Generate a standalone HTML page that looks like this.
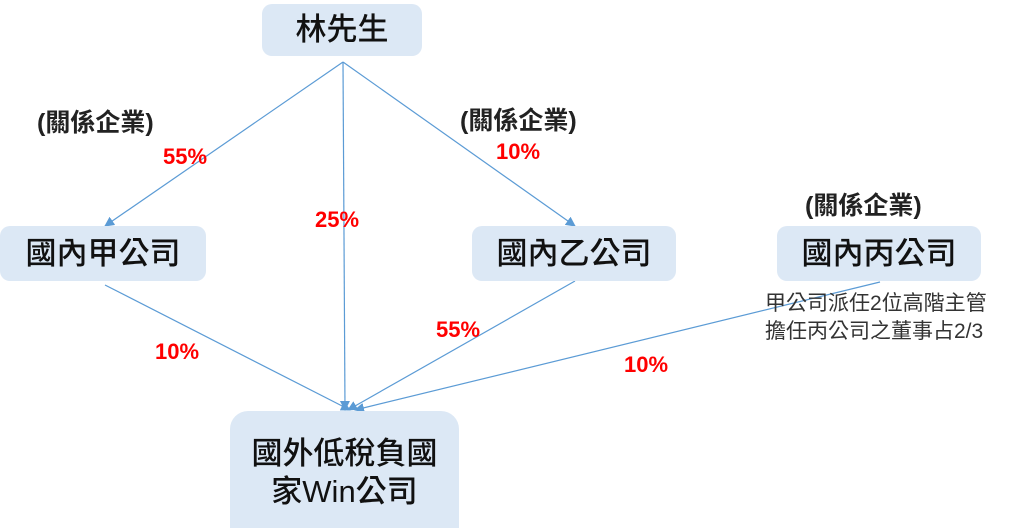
<!DOCTYPE html>
<html><head><meta charset="utf-8"><style>
html,body{margin:0;width:1024px;height:528px;background:#fff;position:relative;overflow:hidden;font-family:"Liberation Sans","Noto Sans CJK TC",sans-serif}
.b{position:absolute;background:#dce8f5;border-radius:10px;display:flex;align-items:center;justify-content:center;font-size:31px;font-weight:500;color:#111;text-align:center;line-height:1.15}
.t{position:absolute;font-size:25px;font-weight:bold;color:#222;white-space:nowrap}
.r{position:absolute;font-size:22px;font-weight:bold;color:#f00;white-space:nowrap}
.n{position:absolute;font-size:21px;color:#333;line-height:28px;white-space:nowrap}
</style></head><body>
<svg width="1024" height="528" style="position:absolute;left:0;top:0">
<defs><marker id="a" markerWidth="12" markerHeight="12" refX="9" refY="5" orient="auto" markerUnits="userSpaceOnUse"><path d="M0,0L10,5L0,10z" fill="#5b9bd5"/></marker></defs>
<g stroke="#5b9bd5" stroke-width="1.2" fill="none" marker-end="url(#a)">
<line x1="343" y1="62" x2="105" y2="226"/>
<line x1="343" y1="62" x2="345" y2="410"/>
<line x1="343" y1="62" x2="575" y2="226"/>
<line x1="105" y1="285" x2="350" y2="410"/>
<line x1="575" y1="281" x2="348" y2="410"/>
<line x1="880" y1="282" x2="355" y2="410"/>
</g></svg>
<div class="b" style="left:262px;top:4px;width:160px;height:52px">林先生</div>
<div class="b" style="left:0;top:226px;width:206px;height:55px">國內甲公司</div>
<div class="b" style="left:472px;top:226px;width:204px;height:55px">國內乙公司</div>
<div class="b" style="left:777px;top:226px;width:204px;height:55px">國內丙公司</div>
<div class="b" style="left:230px;top:411px;width:229px;height:117px;align-items:flex-start;padding-top:24px;line-height:1.22;box-sizing:border-box;border-radius:18px 18px 0 0">國外低稅負國<br>家Win公司</div>
<div class="t" style="left:37px;top:103px">(關係企業)</div>
<div class="t" style="left:460px;top:101px">(關係企業)</div>
<div class="t" style="left:805px;top:186px">(關係企業)</div>
<div class="r" style="left:163px;top:144px">55%</div>
<div class="r" style="left:496px;top:139px">10%</div>
<div class="r" style="left:315px;top:207px">25%</div>
<div class="r" style="left:155px;top:339px">10%</div>
<div class="r" style="left:436px;top:317px">55%</div>
<div class="r" style="left:624px;top:352px">10%</div>
<div class="n" style="left:765px;top:290px">甲公司派任2位高階主管<br>擔任丙公司之董事占2/3</div>
</body></html>
